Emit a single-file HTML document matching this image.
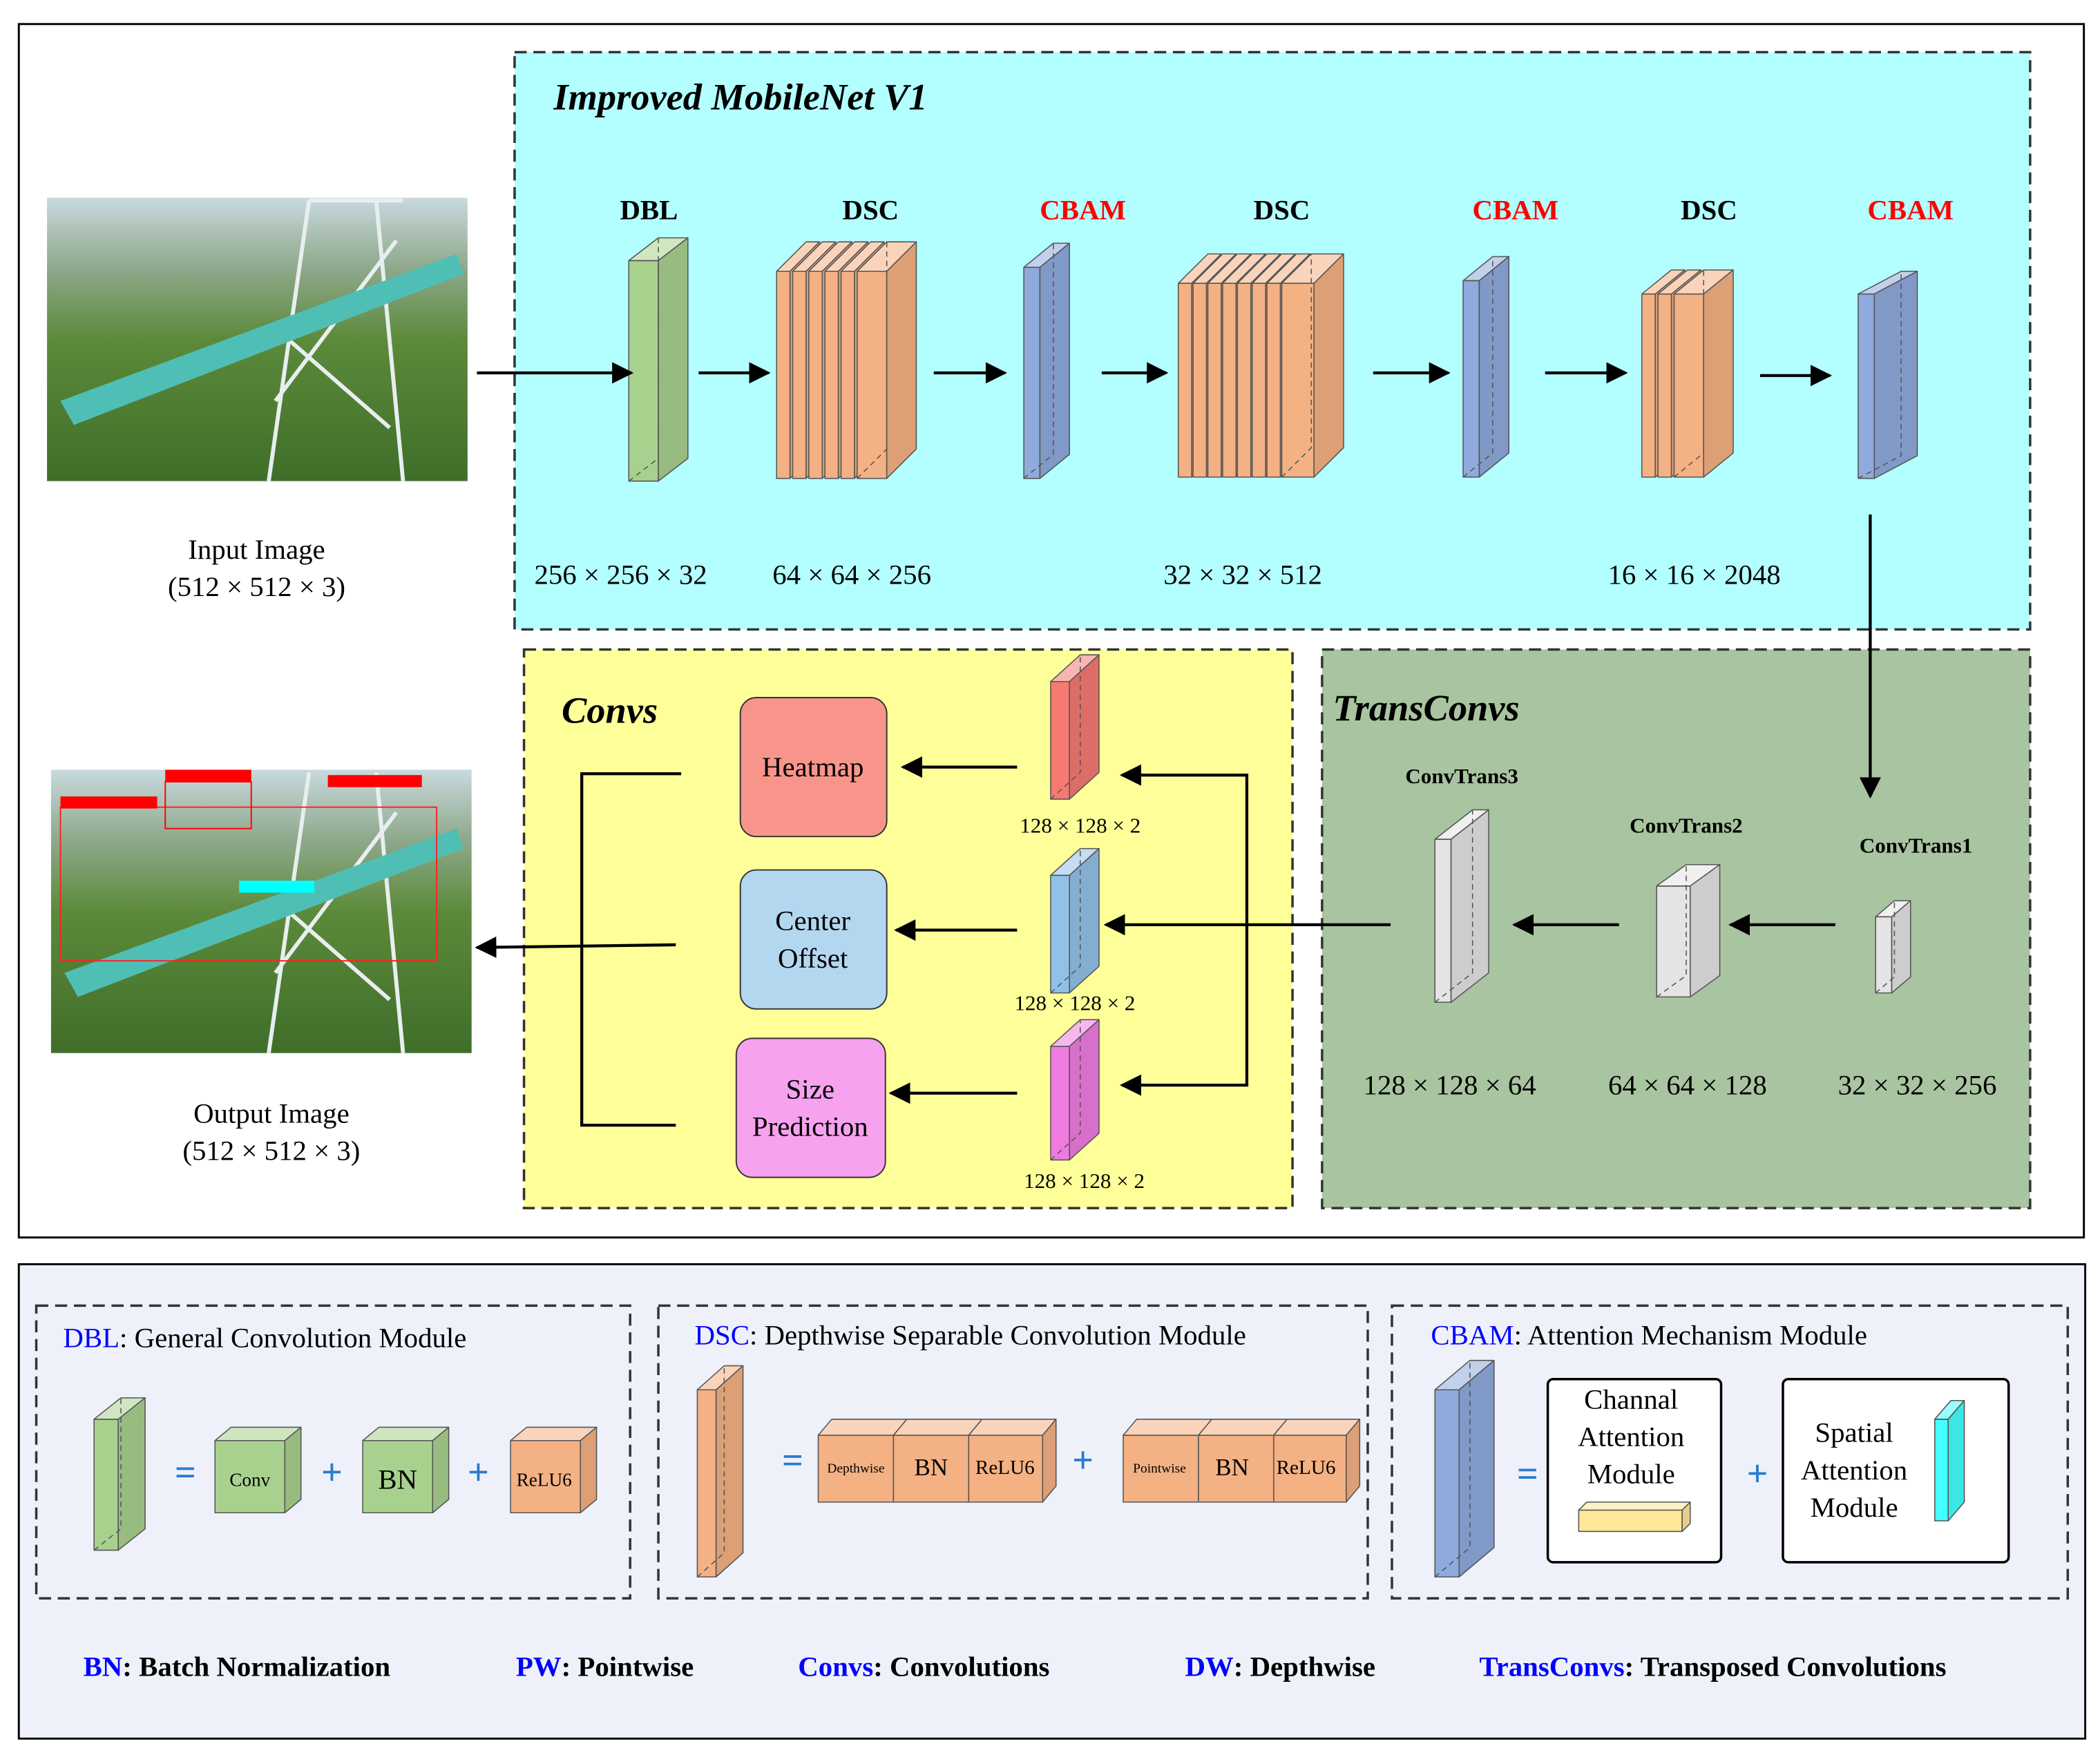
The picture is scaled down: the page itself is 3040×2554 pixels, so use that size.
<!DOCTYPE html>
<html><head><meta charset="utf-8"><style>
html,body{margin:0;padding:0;background:#fff}
svg{display:block}
text{font-family:"Liberation Serif",serif}
</style></head><body>
<svg id="s" width="3040" height="2554" viewBox="0 0 1563 1320" preserveAspectRatio="none" xmlns="http://www.w3.org/2000/svg">
<defs>
<marker id="ah" markerWidth="10" markerHeight="10" refX="9" refY="5" orient="auto" markerUnits="userSpaceOnUse"><path d="M0,0 L14,5 L0,10 Z" transform="scale(0.9)" fill="#000"/></marker>
<marker id="a2" viewBox="0 0 10 10" markerWidth="16" markerHeight="16" refX="9" refY="5" orient="auto" markerUnits="userSpaceOnUse"><path d="M0,0 L10,5 L0,10 Z" fill="#000"/></marker>
<linearGradient id="sky" x1="0" y1="0" x2="0" y2="1"><stop offset="0" stop-color="#c9d9de"/><stop offset="0.25" stop-color="#8ea88a"/><stop offset="0.5" stop-color="#5c8a3a"/><stop offset="1" stop-color="#3f6e2a"/></linearGradient>
</defs>
<rect x="14" y="18" width="1537" height="908" fill="#fff" stroke="#000" stroke-width="1.5"/>
<rect x="383" y="39" width="1128" height="432" fill="#b3ffff" stroke="#333" stroke-width="1.8" stroke-dasharray="9,5"/>
<rect x="390" y="486" width="572" height="418" fill="#ffff99" stroke="#333" stroke-width="1.8" stroke-dasharray="9,5"/>
<rect x="984" y="486" width="527" height="418" fill="#a9c4a0" stroke="#333" stroke-width="1.8" stroke-dasharray="9,5"/>

<!-- photos -->
<g>
<rect x="35" y="148" width="313" height="212" fill="url(#sky)"/>
<g stroke="#e8eef0" stroke-width="3" fill="none"><path d="M200,360 L230,150 M300,360 L280,150 M205,300 L295,180 M210,250 L290,320 M230,150 L300,150"/></g>
<path d="M45,300 L340,190 L345,205 L55,318 Z" fill="#4fbfb5"/>
</g>
<g>
<rect x="38" y="576" width="313" height="212" fill="url(#sky)"/>
<g stroke="#e8eef0" stroke-width="3" fill="none"><path d="M200,788 L230,578 M300,788 L280,578 M205,728 L295,608 M210,678 L290,748"/></g>
<path d="M48,728 L340,620 L345,635 L58,746 Z" fill="#4fbfb5"/>
<rect x="45" y="604" width="280" height="115" fill="none" stroke="#ff2020" stroke-width="1"/>
<rect x="45" y="596" width="72" height="9" fill="#f00"/>
<rect x="123" y="576" width="64" height="9" fill="#f00"/>
<rect x="123" y="585" width="64" height="35" fill="none" stroke="#f00"/>
<rect x="244" y="580" width="70" height="9" fill="#f00"/>
<rect x="178" y="659" width="56" height="9" fill="#0ff"/>
</g>
<g id="shapes"></g>

<!-- arrows -->
<g stroke="#000" stroke-width="2.2" fill="none" marker-end="url(#a2)">
<line x1="355" y1="279" x2="470" y2="279"/>
<line x1="520" y1="279" x2="572" y2="279"/>
<line x1="695" y1="279" x2="748" y2="279"/>
<line x1="820" y1="279" x2="868" y2="279"/>
<line x1="1022" y1="279" x2="1078" y2="279"/>
<line x1="1150" y1="279" x2="1210" y2="279"/>
<line x1="1310" y1="281" x2="1362" y2="281"/>
<line x1="1392" y1="385" x2="1392" y2="596"/>
<line x1="1366" y1="692" x2="1288" y2="692"/>
<line x1="1205" y1="692" x2="1127" y2="692"/>
<line x1="1035" y1="692" x2="823" y2="692"/>
<line x1="757" y1="574" x2="672" y2="574"/>
<line x1="757" y1="696" x2="667" y2="696"/>
<line x1="757" y1="818" x2="663" y2="818"/>
<polyline points="928,692 928,580 835,580"/>
<polyline points="928,692 928,812 835,812"/>
<line x1="503" y1="707" x2="355" y2="709"/>
</g>
<polyline points="507,579 433,579 433,842 503,842" stroke="#000" stroke-width="2.2" fill="none"/>

<!-- boxes -->
<rect x="551" y="522" width="109" height="104" rx="12" fill="#f8958b" stroke="#333"/>
<rect x="551" y="651" width="109" height="104" rx="12" fill="#b4d7f0" stroke="#333"/>
<rect x="548" y="777" width="111" height="104" rx="12" fill="#f7a2ee" stroke="#333"/>
<g font-size="21" text-anchor="middle">
<text x="605" y="581">Heatmap</text>
<text x="605" y="696">Center</text><text x="605" y="724">Offset</text>
<text x="603" y="822">Size</text><text x="603" y="850">Prediction</text>
</g>

<!-- texts top -->
<text x="412" y="82" font-size="28" font-weight="bold" font-style="italic">Improved MobileNet V1</text>
<text x="418" y="541" font-size="28" font-weight="bold" font-style="italic">Convs</text>
<text x="992" y="539" font-size="28" font-weight="bold" font-style="italic">TransConvs</text>
<g font-size="21" font-weight="bold" text-anchor="middle">
<text x="483" y="164">DBL</text><text x="648" y="164">DSC</text><text x="806" y="164" fill="#f00">CBAM</text>
<text x="954" y="164">DSC</text><text x="1128" y="164" fill="#f00">CBAM</text><text x="1272" y="164">DSC</text><text x="1422" y="164" fill="#f00">CBAM</text>
</g>
<g font-size="16" font-weight="bold" text-anchor="middle">
<text x="1088" y="586">ConvTrans3</text><text x="1255" y="623">ConvTrans2</text><text x="1426" y="638">ConvTrans1</text>
</g>
<g font-size="21" text-anchor="middle">
<text x="462" y="437">256 × 256 × 32</text><text x="634" y="437">64 × 64 × 256</text>
<text x="925" y="437">32 × 32 × 512</text><text x="1261" y="437">16 × 16 × 2048</text>
<text x="1079" y="819">128 × 128 × 64</text><text x="1256" y="819">64 × 64 × 128</text><text x="1427" y="819">32 × 32 × 256</text>
<text x="191" y="418">Input Image</text><text x="191" y="446">(512 × 512 × 3)</text>
<text x="202" y="840">Output Image</text><text x="202" y="868">(512 × 512 × 3)</text>
</g>
<g font-size="16" text-anchor="middle">
<text x="804" y="623">128 × 128 × 2</text><text x="800" y="756">128 × 128 × 2</text><text x="807" y="889">128 × 128 × 2</text>
</g>

<!-- legend -->
<rect x="14" y="946" width="1538" height="355" fill="#eef1f9" stroke="#000" stroke-width="1.5"/>
<g fill="none" stroke="#333" stroke-width="1.8" stroke-dasharray="9,5">
<rect x="27" y="977" width="442" height="219"/><rect x="490" y="977" width="528" height="219"/><rect x="1036" y="977" width="503" height="219"/>
</g>
<rect x="1152" y="1032" width="129" height="137" rx="4" fill="#fff" stroke="#000" stroke-width="1.8"/>
<rect x="1327" y="1032" width="168" height="137" rx="4" fill="#fff" stroke="#000" stroke-width="1.8"/>
<g font-size="21">
<text x="47" y="1008"><tspan fill="#0000ff">DBL</tspan>: General Convolution Module</text>
<text x="517" y="1006"><tspan fill="#0000ff">DSC</tspan>: Depthwise Separable Convolution Module</text>
<text x="1065" y="1006"><tspan fill="#0000ff">CBAM</tspan>: Attention Mechanism Module</text>
</g>
<g font-size="21" text-anchor="middle">
<text x="1214" y="1054">Channal</text><text x="1214" y="1082">Attention</text><text x="1214" y="1110">Module</text>
<text x="1380" y="1079">Spatial</text><text x="1380" y="1107">Attention</text><text x="1380" y="1135">Module</text>
</g>
<g font-size="28" font-weight="bold" fill="#2a7ad0" text-anchor="middle">
<text x="138" y="1111">=</text><text x="247" y="1111">+</text><text x="356" y="1111">+</text>
<text x="590" y="1102">=</text><text x="806" y="1102">+</text>
<text x="1137" y="1112">=</text><text x="1308" y="1112">+</text>
</g>
<g font-size="21" font-weight="bold">
<text x="62" y="1254"><tspan fill="#0000ff">BN</tspan>: Batch Normalization</text>
<text x="384" y="1254"><tspan fill="#0000ff">PW</tspan>: Pointwise</text>
<text x="594" y="1254"><tspan fill="#0000ff">Convs</tspan>: Convolutions</text>
<text x="882" y="1254"><tspan fill="#0000ff">DW</tspan>: Depthwise</text>
<text x="1101" y="1254"><tspan fill="#0000ff">TransConvs</tspan>: Transposed Convolutions</text>
</g>
<g id="cubes2"></g>
<g text-anchor="middle">
<text x="186" y="1112" font-size="14">Conv</text>
<text x="296" y="1114" font-size="21">BN</text>
<text x="405" y="1112" font-size="14">ReLU6</text>
<text x="637" y="1102" font-size="10">Depthwise</text>
<text x="693" y="1104" font-size="18">BN</text>
<text x="748" y="1103" font-size="15">ReLU6</text>
<text x="863" y="1102" font-size="10">Pointwise</text>
<text x="917" y="1104" font-size="18">BN</text>
<text x="972" y="1103" font-size="15">ReLU6</text>
</g>
</svg>
<script>
var NS="http://www.w3.org/2000/svg";
function el(g,t,a){var e=document.createElementNS(NS,t);for(var k in a)e.setAttribute(k,a[k]);g.appendChild(e);return e;}
function shade(c,f){var n=parseInt(c.slice(1),16),r=n>>16,g=(n>>8)&255,b=n&255;
function m(v){return Math.max(0,Math.min(255,Math.round(f>1?v+(255-v)*(f-1):v*f)));}
return "rgb("+m(r)+","+m(g)+","+m(b)+")";}
function cub(gid,x,y,w,h,dx,dy,c,dash){var g=document.getElementById(gid);
var st={stroke:"#555","stroke-width":0.8,"stroke-linejoin":"round"};
function P(pts,f){var a={points:pts,fill:f};for(var k in st)a[k]=st[k];el(g,"polygon",a);}
P(x+","+y+" "+(x+w)+","+y+" "+(x+w)+","+(y+h)+" "+x+","+(y+h),c);
P(x+","+y+" "+(x+dx)+","+(y-dy)+" "+(x+w+dx)+","+(y-dy)+" "+(x+w)+","+y,shade(c,1.45));
P((x+w)+","+y+" "+(x+w+dx)+","+(y-dy)+" "+(x+w+dx)+","+(y+h-dy)+" "+(x+w)+","+(y+h),shade(c,0.9));
if(dash){el(g,"polyline",{points:x+","+(y+h)+" "+(x+dx)+","+(y+h-dy)+" "+(x+dx)+","+(y-dy),fill:"none",stroke:"#555","stroke-width":0.8,"stroke-dasharray":"4,3"});}}
var G="#a9d18e",O="#f4b183",B="#8faadc",W="#e4e4e4";
cub("shapes",468,195,22,165,22,17,G,1);
for(var i=0;i<6;i++)cub("shapes",578+i*12,203,i==5?22:10,155,22,22,O,i==5);
cub("shapes",762,200,12,158,22,18,B,1);
for(var i=0;i<8;i++)cub("shapes",877+i*11,212,i==7?24:10,145,22,22,O,i==7);
cub("shapes",1089,210,12,147,22,18,B,1);
for(var i=0;i<3;i++)cub("shapes",1222+i*12,220,i==2?22:10,137,22,18,O,i==2);
cub("shapes",1383,220,12,138,32,17,B,1);
cub("shapes",1396,686,12,57,14,12,W,1);
cub("shapes",1233,663,25,83,22,16,W,1);
cub("shapes",1068,628,12,122,28,22,W,1);
cub("shapes",782,510,14,88,22,20,"#f47a72",1);
cub("shapes",782,655,14,88,22,20,"#92c1e8",1);
cub("shapes",782,783,14,85,22,20,"#f07be0",1);
cub("cubes2",70,1062,18,98,20,16,G,1);
cub("cubes2",160,1078,52,54,12,10,G,0);
cub("cubes2",270,1078,52,54,12,10,G,0);
cub("cubes2",380,1078,52,54,12,10,O,0);
cub("cubes2",519,1040,14,140,20,18,O,1);
cub("cubes2",609,1074,56,50,10,12,O,0);
cub("cubes2",665,1074,56,50,10,12,O,0);
cub("cubes2",721,1074,55,50,10,12,O,0);
cub("cubes2",836,1074,56,50,10,12,O,0);
cub("cubes2",892,1074,56,50,10,12,O,0);
cub("cubes2",948,1074,54,50,10,12,O,0);
cub("cubes2",1068,1040,18,140,26,22,B,1);
cub("cubes2",1175,1130,77,16,6,6,"#ffe699",0);
cub("cubes2",1440,1062,10,76,12,14,"#44ffff",0);
</script>
</body></html>
